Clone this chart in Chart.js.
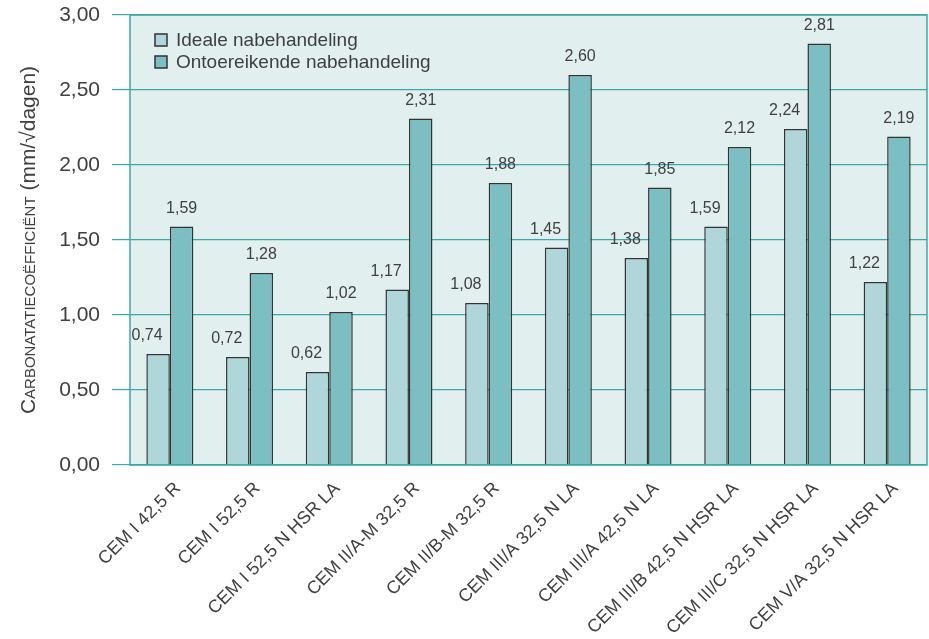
<!DOCTYPE html>
<html>
<head>
<meta charset="utf-8">
<script src="https://cdn.jsdelivr.net/npm/chart.js@4/dist/chart.umd.min.js"></script>
<style>
  html, body { margin: 0; padding: 0; background: #fff; }
  #wrap { width: 929px; height: 639px; }
</style>
</head>
<body>
<div id="wrap"><canvas id="carbonatatieChart" width="929" height="639"></canvas></div>
<script>
const cementTypes = [
  'CEM I 42,5 R', 'CEM I 52,5 R', 'CEM I 52,5 N HSR LA', 'CEM II/A-M 32,5 R',
  'CEM II/B-M 32,5 R', 'CEM III/A 32,5 N LA', 'CEM III/A 42,5 N LA',
  'CEM III/B 42,5 N HSR LA', 'CEM III/C 32,5 N HSR LA', 'CEM V/A 32,5 N HSR LA'
];
const idealeNabehandeling = [0.74, 0.72, 0.62, 1.17, 1.08, 1.45, 1.38, 1.59, 2.24, 1.22];
const ontoereikendeNabehandeling = [1.59, 1.28, 1.02, 2.31, 1.88, 2.60, 1.85, 2.12, 2.81, 2.19];
const seriesNames = ['Ideale nabehandeling', 'Ontoereikende nabehandeling'];

const teal = '#3aa9a9';
const textColor = '#404040';
const fontFamily = '"Liberation Sans", Arial, sans-serif';

function komma(v) {
  return v.toFixed(2).replace('.', ',');
}

// plot background + border
const plotFrame = {
  id: 'plotFrame',
  beforeDraw(chart) {
    const { ctx, chartArea: a } = chart;
    ctx.save();
    ctx.fillStyle = '#e2efef';
    ctx.fillRect(a.left, a.top, a.right - a.left, a.bottom - a.top);
    ctx.restore();
  },
  afterDatasetsDraw(chart) {
    const { ctx, chartArea: a } = chart;
    ctx.save();
    ctx.strokeStyle = teal;
    ctx.lineWidth = 1.5;
    ctx.strokeRect(a.left, a.top, a.right - a.left, a.bottom - a.top);
    ctx.restore();
  }
};

// values above the bars
const valueLabels = {
  id: 'valueLabels',
  afterDatasetsDraw(chart) {
    const { ctx } = chart;
    ctx.save();
    ctx.font = '16px ' + fontFamily;
    ctx.fillStyle = textColor;
    ctx.textAlign = 'center';
    ctx.textBaseline = 'middle';
    chart.data.datasets.forEach((ds, i) => {
      const meta = chart.getDatasetMeta(i);
      const dx = i === 0 ? -11 : 0;
      meta.data.forEach((bar, j) => {
        ctx.fillText(komma(ds.data[j]), bar.x + dx, bar.y - 18);
      });
    });
    ctx.restore();
  }
};

// legend in the upper left corner of the plot
const innerLegend = {
  id: 'innerLegend',
  afterDraw(chart) {
    const { ctx, chartArea: a } = chart;
    ctx.save();
    ctx.font = '19px ' + fontFamily;
    ctx.textBaseline = 'middle';
    chart.data.datasets.forEach((ds, i) => {
      const y = a.top + 25 + i * 22;
      const x = a.left + 25;
      ctx.fillStyle = ds.backgroundColor;
      ctx.fillRect(x, y - 6, 12, 12);
      ctx.strokeStyle = '#333';
      ctx.lineWidth = 1.5;
      ctx.strokeRect(x, y - 6, 12, 12);
      ctx.fillStyle = textColor;
      ctx.fillText(ds.label, x + 21, y + 1);
    });
    ctx.restore();
  }
};

// vertical axis title with small caps
const axisTitle = {
  id: 'axisTitle',
  afterDraw(chart) {
    const { ctx, chartArea: a } = chart;
    const parts = [
      ['C', '21px ' + fontFamily],
      ['ARBONATATIECOËFFICIËNT', '15px ' + fontFamily],
      [' (mm/√dagen)', '21px ' + fontFamily]
    ];
    ctx.save();
    let total = 0;
    parts.forEach(p => { ctx.font = p[1]; total += ctx.measureText(p[0]).width; });
    ctx.translate(28, (a.top + a.bottom) / 2);
    ctx.rotate(-Math.PI / 2);
    ctx.fillStyle = textColor;
    ctx.textBaseline = 'alphabetic';
    let x = -total / 2;
    parts.forEach(p => {
      ctx.font = p[1];
      ctx.fillText(p[0], x, 7);
      x += ctx.measureText(p[0]).width;
    });
    ctx.restore();
  }
};

new Chart(document.getElementById('carbonatatieChart').getContext('2d'), {
  type: 'bar',
  data: {
    labels: cementTypes,
    datasets: [{
      label: seriesNames[0],
      data: idealeNabehandeling,
      backgroundColor: '#afd6d8',
      borderColor: '#333333',
      borderWidth: 1.5
    }, {
      label: seriesNames[1],
      data: ontoereikendeNabehandeling,
      backgroundColor: '#7bbfc3',
      borderColor: '#333333',
      borderWidth: 1.5
    }]
  },
  options: {
    responsive: false,
    animation: false,
    layout: { padding: { top: 15, right: 2, left: 0, bottom: 0 } },
    datasets: { bar: { categoryPercentage: 0.59, barPercentage: 1.0 } },
    plugins: {
      legend: { display: false },
      tooltip: { enabled: false }
    },
    scales: {
      x: {
        grid: { display: false },
        border: { display: false },
        ticks: {
          color: textColor,
          font: { size: 18, family: fontFamily },
          minRotation: 45,
          maxRotation: 45,
          padding: 5,
          labelOffset: 8
        },
        afterFit(scale) { scale.height = 174; }
      },
      y: {
        min: 0,
        max: 3,
        ticks: {
          stepSize: 0.5,
          color: textColor,
          font: { size: 21, family: fontFamily },
          padding: 12,
          callback: v => komma(v)
        },
        grid: { color: teal, lineWidth: 1.2, tickLength: 18 },
        border: { display: false },
        afterFit(scale) {
          scale.width = 130;
          scale.paddingTop = 0;
          scale.paddingBottom = 0;
        }
      }
    }
  },
  plugins: [plotFrame, valueLabels, innerLegend, axisTitle]
});
</script>
</body>
</html>
